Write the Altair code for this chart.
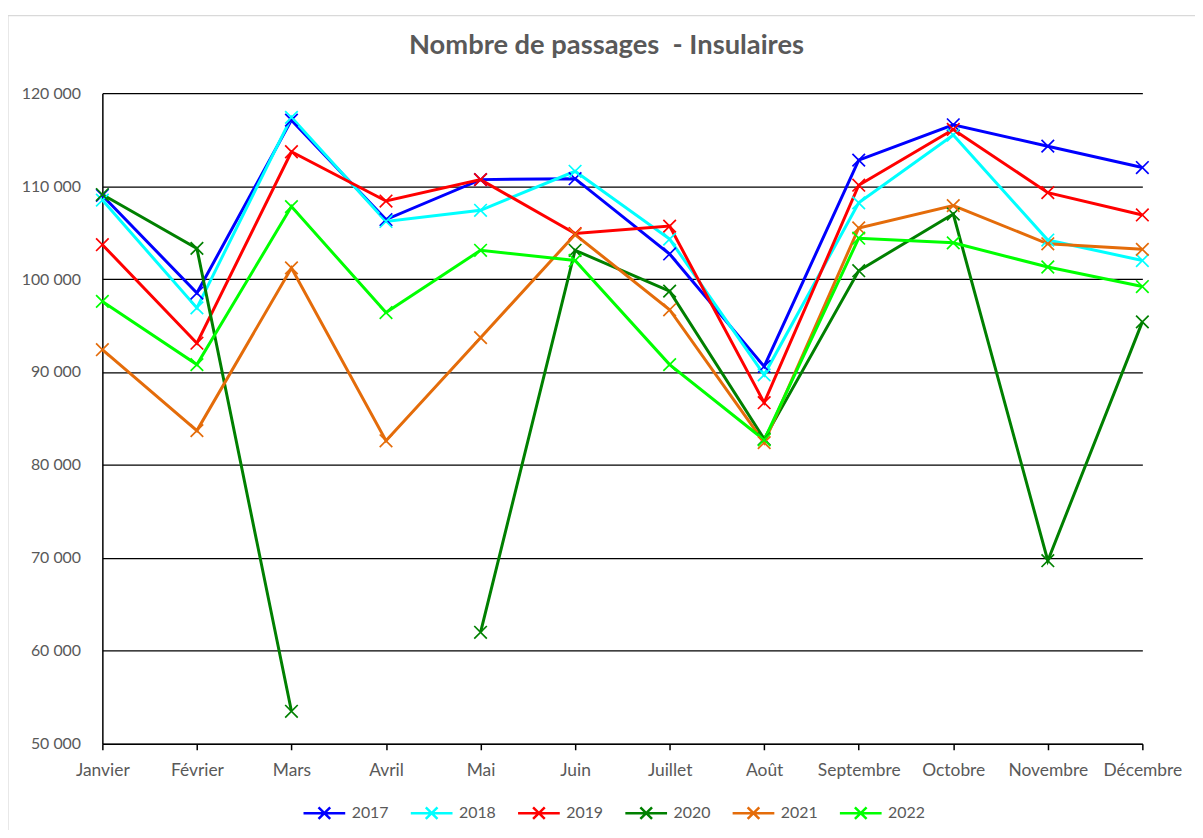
import altair as alt
import pandas as pd

months = ["Janvier", "Février", "Mars", "Avril", "Mai", "Juin", "Juillet",
          "Août", "Septembre", "Octobre", "Novembre", "Décembre"]

years = ["2017", "2018", "2019", "2020", "2021", "2022"]

v2017 = [109000, 98500, 117100, 106400, 110700, 110800, 102700, 90600, 112800, 116600, 114300, 112000]
v2018 = [108500, 96900, 117400, 106200, 107400, 111600, 104300, 89700, 108200, 115500, 104200, 102000]
v2019 = [103700, 93100, 113700, 108400, 110700, 104900, 105700, 86700, 110100, 116100, 109300, 106900]
v2020 = [109100, 103300, 53500, None, 62000, 103100, 98700, 82800, 100900, 107000, 69700, 95400]
v2021 = [92400, 83700, 101200, 82600, 93700, 104800, 96700, 82400, 105500, 107900, 103800, 103200]
v2022 = [97600, 90800, 107800, 96400, 103100, 102000, 90800, 82700, 104400, 103900, 101300, 99200]

colors = ["#0000FF", "#00FFFF", "#FF0000", "#008000", "#E46C0A", "#00FF00"]

series = [v2017, v2018, v2019, v2020, v2021, v2022]
rows = []
for yr, vals in zip(years, series):
    for m, v in zip(months, vals):
        rows.append({"mois": m, "annee": yr, "valeur": v})
df = pd.DataFrame(rows)

grey = "#595959"
FONT = "Lato"

x_enc = alt.X("mois:N", sort=months, scale=alt.Scale(type="point", padding=0),
              axis=alt.Axis(title=None, labelAngle=0, domainColor="black", domainWidth=1.5,
                            tickColor="black", tickWidth=1.5, tickSize=6, labelPadding=12,
                            grid=False, labelColor=grey, labelFontSize=17.5, labelFont=FONT))
y_enc = alt.Y("valeur:Q", scale=alt.Scale(domain=[50000, 120000], nice=False, zero=False),
              axis=alt.Axis(title=None, values=list(range(50000, 120001, 10000)),
                            labelExpr="floor(datum.value/1000) + ' 000'",
                            grid=True, gridColor="black", gridWidth=1.3, gridOpacity=1,
                            ticks=False, domainColor="black", domainWidth=1.5,
                            labelPadding=22, labelColor=grey, labelFontSize=16, labelFont=FONT))
color_enc = alt.Color("annee:N", scale=alt.Scale(domain=years, range=colors),
                      legend=alt.Legend(title=None, orient="none", direction="horizontal",
                                        legendX=201, legendY=702,
                                        symbolType="M-1,0L1,0M-0.28,-0.28L0.28,0.28M-0.28,0.28L0.28,-0.28",
                                        symbolSize=1764, symbolStrokeWidth=2.5,
                                        labelOffset=5, columnPadding=16,
                                        labelColor=grey, labelFontSize=16, labelFont=FONT))

base = alt.Chart(df)

lines = base.mark_line(strokeWidth=3, invalid="break-paths-show-domains").encode(
    x=x_enc, y=y_enc, color=color_enc)

points = base.mark_point(shape="M-1,-1L1,1M-1,1L1,-1", filled=False, size=160,
                         strokeWidth=1.7, opacity=1).encode(
    x=x_enc, y=y_enc, color=alt.Color("annee:N", scale=alt.Scale(domain=years, range=colors), legend=None))

frame = alt.Chart(alt.Data(values=[{"a": 1}])).mark_rect(
    fill="transparent", stroke="#d9d9d9", strokeWidth=1.2).encode(
    x=alt.value(-95), x2=alt.value(1150), y=alt.value(-78), y2=alt.value(800))

chart = alt.layer(frame, lines, points).properties(
    width=1047, height=655,
    autosize=alt.AutoSizeParams(type="none"),
    padding={"left": 95, "top": 83, "right": 53, "bottom": 84},
    title=alt.TitleParams("Nombre de passages\u00a0 - Insulaires", font=FONT, fontSize=27.5,
                          fontWeight="bold", color=grey, anchor="middle", frame="group",
                          dx=-16, offset=-45),
    background="white",
).configure_view(stroke=None)

chart.save("out.html", embed_options={"renderer": "svg", "actions": False})
